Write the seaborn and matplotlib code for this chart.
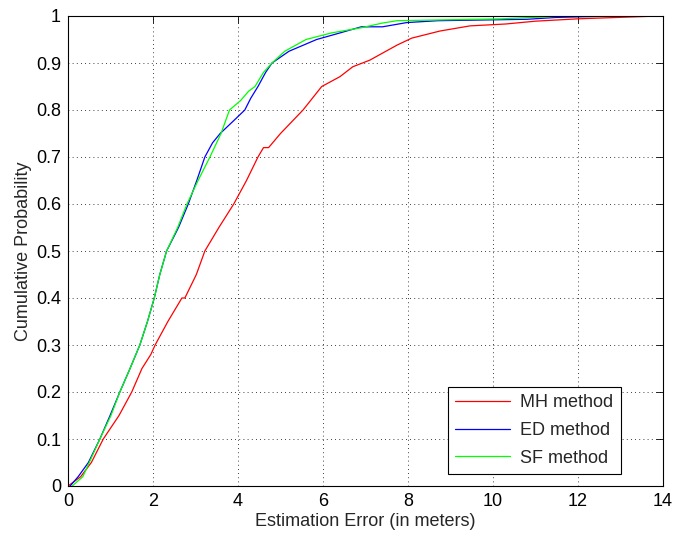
import numpy as np
import pandas as pd
import matplotlib
matplotlib.use('Agg')
import matplotlib.pyplot as plt
import seaborn as sns

# Courbes CDF (erreur en metres, probabilite cumulee)
mh_x = [0, 0.3, 0.55, 0.83, 1.2, 1.5, 1.74, 1.95, 2.05, 2.35, 2.68, 2.75, 3.02,
        3.22, 3.55, 3.9, 4.2, 4.47, 4.6, 4.72, 5.0, 5.53, 5.97, 6.4, 6.7, 7.1,
        7.74, 8.09, 8.75, 9.46, 10.3, 11.0, 12.0, 13.9]
mh_y = [0, 0.02, 0.05, 0.1, 0.15, 0.2, 0.25, 0.28, 0.3, 0.35, 0.4, 0.4, 0.45,
        0.5, 0.55, 0.6, 0.65, 0.7, 0.72, 0.72, 0.75, 0.8, 0.85, 0.871, 0.892, 0.906,
        0.938, 0.953, 0.968, 0.979, 0.983, 0.989, 0.994, 1.0]

ed_x = [0.05, 0.24, 0.48, 0.75, 0.99, 1.22, 1.46, 1.69, 1.87, 2.03, 2.16, 2.32,
        2.6, 2.83, 3.03, 3.22, 3.4, 3.58, 3.93, 4.16, 4.3, 4.47, 4.65, 4.8, 5.2,
        5.85, 6.4, 6.9, 7.4, 7.97, 8.7, 10.8, 11.5, 12.8, 14.0]
ed_y = [0, 0.02, 0.05, 0.1, 0.15, 0.2, 0.25, 0.3, 0.35, 0.4, 0.45, 0.5,
        0.55, 0.6, 0.65, 0.7, 0.73, 0.75, 0.78, 0.8, 0.825, 0.85, 0.88, 0.9, 0.925,
        0.95, 0.964, 0.977, 0.977, 0.986, 0.99, 0.993, 0.997, 1.0, 1.0]

sf_x = [0.1, 0.35, 0.5, 0.75, 1.01, 1.22, 1.46, 1.69, 1.87, 2.03, 2.16, 2.32,
        2.58, 2.8, 3.06, 3.34, 3.6, 3.8, 4.06, 4.25, 4.4, 4.6, 4.8, 5.1, 5.6,
        6.2, 6.9, 7.4, 7.74, 10.2, 11.7, 14.0]
sf_y = [0, 0.02, 0.05, 0.1, 0.15, 0.2, 0.25, 0.3, 0.35, 0.4, 0.45, 0.5,
        0.55, 0.6, 0.65, 0.7, 0.75, 0.8, 0.82, 0.84, 0.85, 0.88, 0.9, 0.925, 0.95,
        0.964, 0.975, 0.985, 0.99, 0.994, 1.0, 1.0]

methods = ['MH method', 'ED method', 'SF method']
colors = ['#ff0000', '#0000ff', '#00ff00']

df = pd.concat([
    pd.DataFrame({'err': mh_x, 'p': mh_y, 'method': methods[0]}),
    pd.DataFrame({'err': ed_x, 'p': ed_y, 'method': methods[1]}),
    pd.DataFrame({'err': sf_x, 'p': sf_y, 'method': methods[2]}),
])

sns.set_style('white')
plt.rcParams['font.family'] = ['Liberation Sans', 'DejaVu Sans']

fig = plt.figure(figsize=(6.77, 5.35), dpi=100)
ax = fig.add_axes([68 / 677, 49 / 535, 595 / 677, 470 / 535])

sns.lineplot(data=df, x='err', y='p', hue='method', hue_order=methods,
             palette=colors, estimator=None, sort=False, linewidth=0.9, ax=ax)

ax.set_xlim(0, 14)
ax.set_ylim(0, 1)
ax.set_xticks(np.arange(0, 15, 2))
ax.set_yticks(np.arange(0, 1.01, 0.1))
ax.set_yticklabels(['0', '0.1', '0.2', '0.3', '0.4', '0.5', '0.6', '0.7', '0.8', '0.9', '1'])
ax.grid(True, linestyle=(0, (1, 4)), color='black', linewidth=0.6)
ax.tick_params(direction='in', length=5, width=0.6, top=True, right=True,
               labelsize=13, pad=5, colors='black')
for s in ax.spines.values():
    s.set_color('black')
    s.set_linewidth(0.8)

ax.set_xlabel('Estimation Error (in meters)', fontsize=13, labelpad=2)
ax.set_ylabel('Cumulative Probability', fontsize=13, labelpad=3)

leg = ax.legend(loc='lower right', bbox_to_anchor=(0.929, 0.0255), fontsize=13,
                fancybox=False, edgecolor='black', framealpha=1, handlelength=3.0,
                borderpad=0.4, labelspacing=0.6, handletextpad=0.6,
                borderaxespad=0)
leg.get_frame().set_linewidth(0.8)

fig.savefig('out.png', dpi=100)
